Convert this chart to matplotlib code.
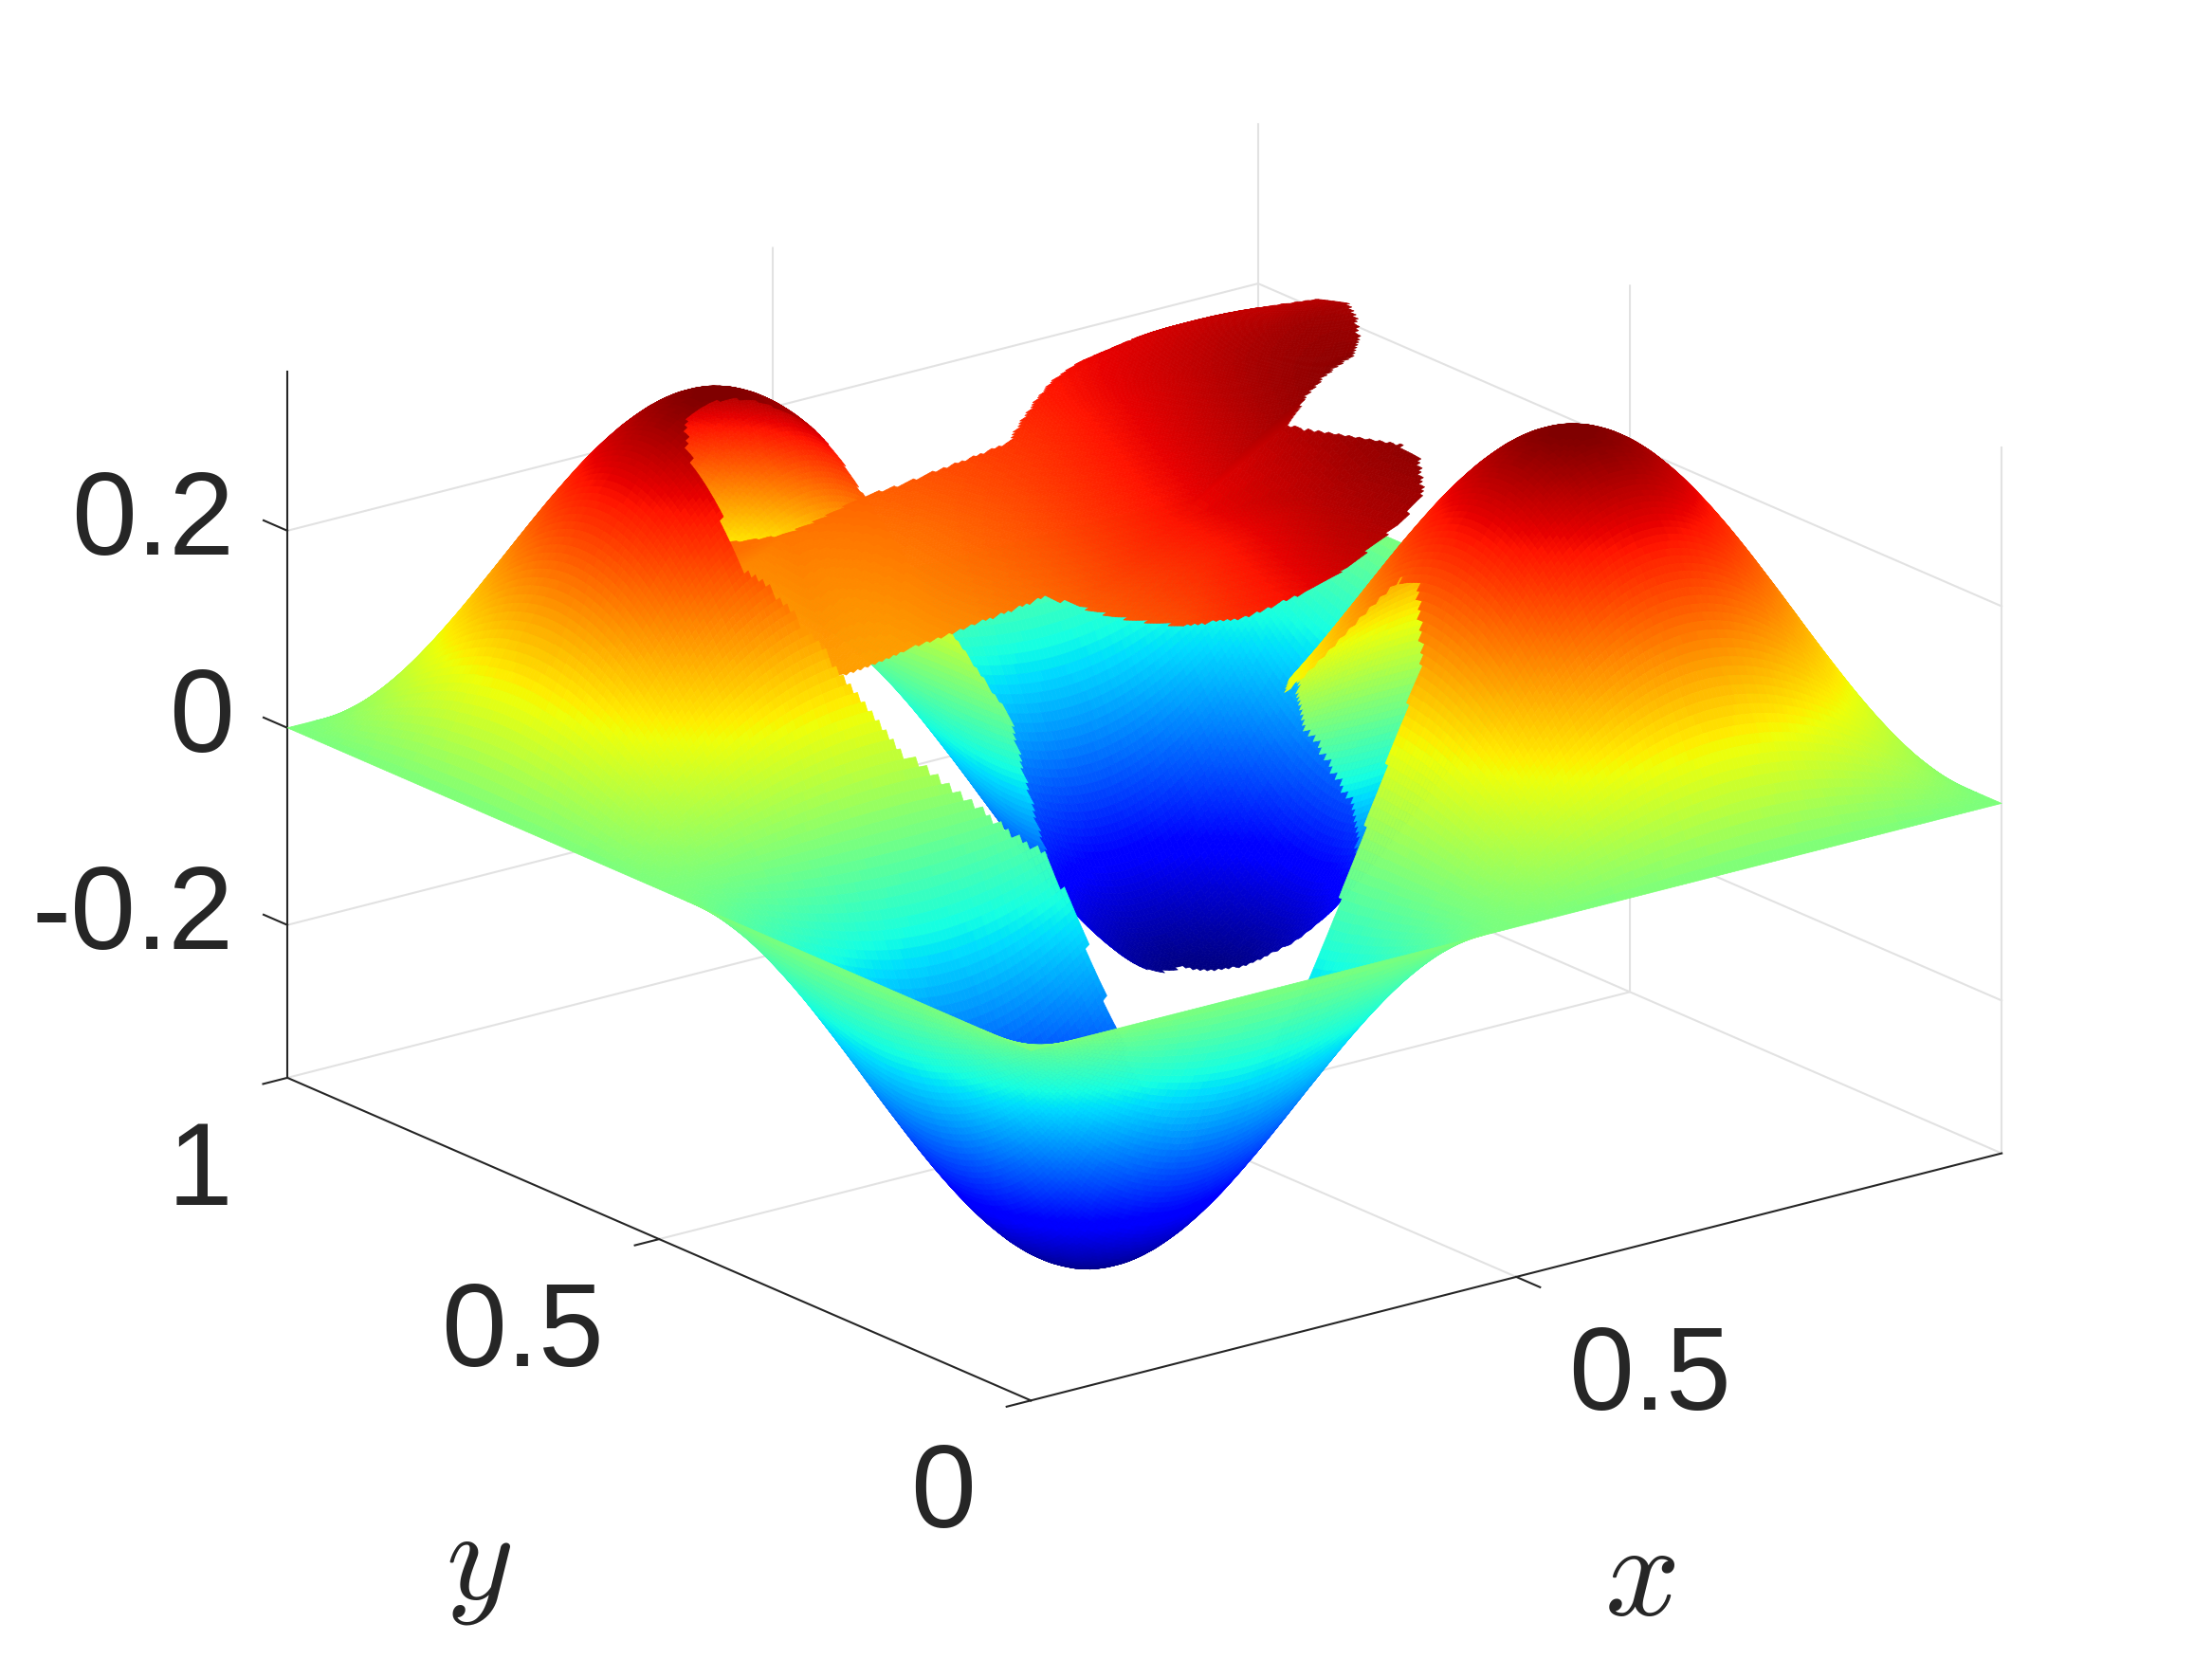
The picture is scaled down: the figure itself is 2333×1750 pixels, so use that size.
import numpy as np
import matplotlib
matplotlib.use("Agg")
import matplotlib.pyplot as plt
import matplotlib.tri as mtri
from matplotlib.path import Path
from mpl_toolkits.mplot3d import proj3d
from mpl_toolkits.mplot3d.art3d import Poly3DCollection

# ----------------------------------
# Data
# ----------------------------------

# height of the ridge from its zero at the edge to the crest (quarter of a wave)
ridge_quarter = [
    0.000, 0.026, 0.052, 0.078, 0.105, 0.131, 0.156, 0.182, 0.208, 0.233,
    0.259, 0.284, 0.309, 0.334, 0.358, 0.383, 0.407, 0.431, 0.454, 0.477,
    0.500, 0.522, 0.545, 0.566, 0.588, 0.609, 0.629, 0.649, 0.669, 0.688,
    0.707, 0.725, 0.743, 0.760, 0.777, 0.793, 0.809, 0.824, 0.839, 0.853,
    0.866, 0.879, 0.891, 0.903, 0.914, 0.924, 0.934, 0.943, 0.951, 0.959,
    0.966, 0.972, 0.978, 0.983, 0.988, 0.991, 0.995, 0.997, 0.999, 1.000,
    1.000,
]
peak_height = 0.36

# outline of the cut region on the x-y plane, with the raised sheet's height
# along it as a fraction of the peak
region_x = [0.190, 0.208, 0.232, 0.300, 0.390, 0.461, 0.506, 0.570, 0.610, 0.647, 0.685, 0.750,
            0.798, 0.816, 0.815, 0.795, 0.779, 0.750, 0.700, 0.665, 0.570, 0.615, 0.611, 0.580, 0.550,
            0.490, 0.445, 0.400, 0.358, 0.370, 0.379, 0.375, 0.330, 0.273, 0.235, 0.183]
region_y = [0.710, 0.738, 0.738, 0.720, 0.740, 0.721, 0.690, 0.737, 0.765, 0.780, 0.760, 0.775,
            0.720, 0.680, 0.640, 0.600, 0.578, 0.550, 0.520, 0.500, 0.400, 0.306, 0.277, 0.230, 0.225,
            0.215, 0.212, 0.230, 0.263, 0.365, 0.429, 0.470, 0.500, 0.527, 0.563, 0.630]
region_w = [0.60, 0.60, 0.60, 0.594, 0.613, 0.664, 0.734, 0.765, 0.77, 0.78, 0.835, 0.82,
            0.887, 0.93, 0.956, 0.954, 0.937, 0.93, 0.938, 0.92, 1.00, 1.00, 0.99, 0.955, 0.893,
            0.82, 0.79, 0.735, 0.708, 0.63, 0.597, 0.594, 0.525, 0.46, 0.38, 0.66]

# a few heights of the raised sheet away from the outline
inner_x = [0.436, 0.529, 0.70, 0.50, 0.45, 0.55]
inner_y = [0.329, 0.664, 0.60, 0.45, 0.60, 0.33]
inner_w = [0.78, 0.78, 0.92, 0.75, 0.68, 0.88]

x_ticks = [0.5]
y_ticks = [0, 0.5, 1]
z_ticks = [-0.2, 0, 0.2]
x_tick_labels = ["0.5"]
y_tick_labels = ["0", "0.5", "1"]
z_tick_labels = ["-0.2", "0", "0.2"]

z_min, z_max = -0.355, 0.3615

# ----------------------------------
# Surface facets
# ----------------------------------

quarter = np.array(ridge_quarter)
half = np.concatenate([quarter, quarter[-2::-1]])
wave = np.concatenate([half, -half[-2::-1]])
grid = np.linspace(0, 1, len(wave))

X, Y = np.meshgrid(grid, grid, indexing="ij")
Z_out = -peak_height * np.outer(wave, wave)


def sheet_terms(a, b):
    a = np.asarray(a)
    b = np.asarray(b)
    return np.stack([np.ones_like(a), a, b, a * a, a * b, b * b,
                     a * a * a, a * a * b, a * b * b, b * b * b], axis=-1)


# smooth fit through the read heights gives the colours, what is left over at
# each read point only moves the height so the outline lands where it was read
sample_x = np.array(region_x + inner_x)
sample_y = np.array(region_y + inner_y)
sample_w = np.array(region_w + inner_w)
coef = np.linalg.lstsq(sheet_terms(sample_x, sample_y), sample_w, rcond=None)[0]
left_over = sample_w - sheet_terms(sample_x, sample_y) @ coef
mesh_x = np.concatenate([sample_x, [0, 1, 0, 1]])
mesh_y = np.concatenate([sample_y, [0, 0, 1, 1]])
mesh_left = np.concatenate([left_over, [0, 0, 0, 0]])
left_over_at = mtri.LinearTriInterpolator(mtri.Triangulation(mesh_x, mesh_y), mesh_left)
W_fit = np.minimum(sheet_terms(X, Y) @ coef, 1.0)
Z_fit = peak_height * W_fit
Z_in = peak_height * np.minimum(W_fit + np.ma.filled(left_over_at(X, Y), 0.0), 1.0)

cx = 0.25 * (X[:-1, :-1] + X[1:, :-1] + X[:-1, 1:] + X[1:, 1:])
cy = 0.25 * (Y[:-1, :-1] + Y[1:, :-1] + Y[:-1, 1:] + Y[1:, 1:])
region = Path(np.column_stack([region_x, region_y]), closed=False)
inside = region.contains_points(np.column_stack([cx.ravel(), cy.ravel()])).reshape(cx.shape)


def facets(Z, keep):
    corners = [(X[:-1, :-1], Y[:-1, :-1], Z[:-1, :-1]),
               (X[1:, :-1], Y[1:, :-1], Z[1:, :-1]),
               (X[1:, 1:], Y[1:, 1:], Z[1:, 1:]),
               (X[:-1, 1:], Y[:-1, 1:], Z[:-1, 1:])]
    return np.stack([np.stack([c[0][keep], c[1][keep], c[2][keep]], axis=-1) for c in corners], axis=1)


outer_facets = facets(Z_out, ~inside)
verts = np.concatenate([outer_facets, facets(Z_in, inside)])
facet_z = np.concatenate([outer_facets[:, :, 2].mean(axis=1),
                          facets(Z_fit, inside)[:, :, 2].mean(axis=1)])
norm = plt.Normalize(-peak_height, peak_height)
colors = plt.get_cmap("jet", 256)(norm(facet_z))

# ----------------------------------
# Axes
# ----------------------------------

plt.rcParams["font.family"] = ["Liberation Sans", "DejaVu Sans"]
plt.rcParams["mathtext.fontset"] = "cm"

W, H = 2333, 1750
fig = plt.figure(figsize=(W / 100, H / 100), dpi=100, facecolor="white")
ax = fig.add_axes([0, 0, 1, 1], projection="3d", proj_type="ortho")
ax.computed_zorder = False
ax.set_axis_off()
ax.set_xlim(0, 1, view_margin=0)
ax.set_ylim(0, 1, view_margin=0)
ax.set_zlim(z_min, z_max, view_margin=0)
ax.set_box_aspect((1, 1, 0.6125))
ax.view_init(elev=19.42, azim=232.55)


def to_pixels(px, py, pz):
    sx, sy, _ = proj3d.proj_transform(px, py, pz, ax.get_proj())
    return ax.transData.transform((sx, sy))


# fit the box on the figure: front corner and the x=1 corner, in pixels from the bottom left
front_target = np.array([1087.3, H - 1477.3])
right_target = np.array([2111.0, H - 1216.0])
side = 1750.0
left, bottom = (W - side) / 2, 0.0
for _ in range(4):
    ax.set_position([left / W, bottom / H, side / W, side / H])
    ax.apply_aspect()
    front = to_pixels(0, 0, z_min)
    right = to_pixels(1, 0, z_min)
    ratio = np.linalg.norm(right_target - front_target) / np.linalg.norm(right - front)
    anchor = np.array([left, bottom])
    new_front = anchor + (front - anchor) * ratio
    side *= ratio
    left, bottom = anchor + front_target - new_front

# ----------------------------------
# Walls, grid and axis lines
# ----------------------------------

grid_color = "#e2e2e2"
axis_color = "#262626"


def wall_line(xs, ys, zs):
    ax.plot(xs, ys, zs, color=grid_color, linewidth=1.5, zorder=1)


def axis_line(xs, ys, zs):
    ax.plot(xs, ys, zs, color=axis_color, linewidth=1.5, zorder=2)


wall_line([0, 1, 1], [1, 1, 0], [z_min, z_min, z_min])
wall_line([1, 1], [1, 1], [z_min, z_max])
wall_line([1, 1], [0, 0], [z_min, z_max])
for t in z_ticks:
    if t != 0:
        wall_line([0, 1, 1], [1, 1, 0], [t, t, t])
for t in x_ticks:
    wall_line([t, t, t], [0, 1, 1], [z_min, z_min, z_max])
for t in y_ticks[1:-1]:
    wall_line([0, 1, 1], [t, t, t], [z_min, z_min, z_max])

axis_line([0, 0], [1, 1], [z_min, z_max])
axis_line([0, 0], [1, 0], [z_min, z_min])
axis_line([0, 1], [0, 0], [z_min, z_min])
for t in z_ticks:
    axis_line([0, 0], [1, 1.032], [t, t])
for t in x_ticks:
    axis_line([t, t], [0, -0.032], [z_min, z_min])
for t in y_ticks:
    axis_line([0, -0.025], [t, t], [z_min, z_min])

# ----------------------------------
# Surface
# ----------------------------------

poly = Poly3DCollection(verts, facecolors=colors, edgecolors=colors, linewidths=0.5)
poly.set_zorder(3)
ax.add_collection3d(poly, autolim=False)

# ----------------------------------
# Tick labels and axis labels
# ----------------------------------


def tick_label(text, point, offset, ha):
    sx, sy, _ = proj3d.proj_transform(*point, ax.get_proj())
    ax.annotate(text, xy=(sx, sy), xytext=offset, textcoords="offset pixels",
                ha=ha, va="baseline", fontsize=89, color=axis_color,
                annotation_clip=False, zorder=5)


for t, lab in zip(z_ticks, z_tick_labels):
    tick_label(lab, (0, 1, t), (-56, -25), "right")
for t, lab in zip(y_ticks, y_tick_labels):
    tick_label(lab, (0, t, z_min), (-58, -134), "right")
for t, lab in zip(x_ticks, x_tick_labels):
    tick_label(lab, (t, 0, z_min), (55, -140), "left")

fig.text(505 / W, 1 - 1654 / H, "$y$", fontsize=98, color=axis_color, ha="center", va="center")
fig.text(1729 / W, 1 - 1667 / H, "$x$", fontsize=100, color=axis_color, ha="center", va="center")

fig.savefig("out.png", dpi=100)
